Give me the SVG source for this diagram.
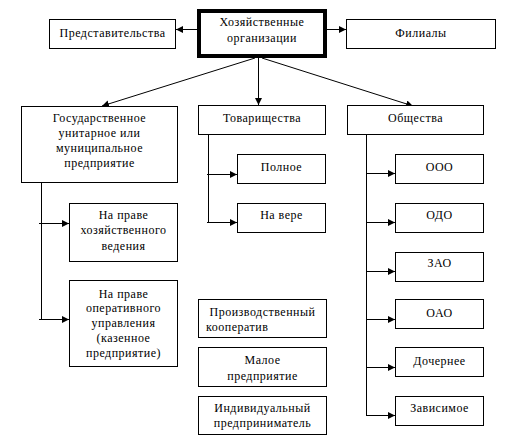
<svg xmlns="http://www.w3.org/2000/svg" width="505" height="445" viewBox="0 0 505 445">
<defs>
<style>
rect{fill:#fff;stroke:#000;stroke-width:1}
.main{stroke-width:4}
text{font-family:"Liberation Serif","DejaVu Serif",serif;font-size:12px;fill:#000;text-anchor:middle;letter-spacing:0.5px}
.l{text-anchor:start}
#connectors path{fill:none;stroke:#000;stroke-width:1}
.a{marker-end:url(#ah)}
</style>
<marker id="ah" markerUnits="userSpaceOnUse" markerWidth="8" markerHeight="8" refX="7" refY="3.5" orient="auto">
<path d="M0,0 L7,3.5 L0,7 Z" fill="#000"/>
</marker>
</defs>
<rect x="0" y="0" width="505" height="445" style="stroke:none"/>
<g id="connectors">
<path class="a" d="M197,29.5 H176"/>
<path class="a" d="M327,29.5 H346"/>
<path class="a" d="M258.5,58 V105"/>
<path class="a" d="M255,58 L102,106"/>
<path class="a" d="M262,58 L413,106"/>
<path d="M41.5,183 V319"/>
<path class="a" d="M39,223.5 H69"/>
<path class="a" d="M39,319.5 H69"/>
<path d="M208.5,135 V222"/>
<path class="a" d="M207,174.5 H237"/>
<path class="a" d="M207,222.5 H237"/>
<path d="M366.5,135 V415"/>
<path class="a" d="M366,173.5 H395"/>
<path class="a" d="M366,222.5 H395"/>
<path class="a" d="M366,271.5 H395"/>
<path class="a" d="M366,319.5 H395"/>
<path class="a" d="M366,367.5 H395"/>
<path class="a" d="M366,415.5 H395"/>
</g>
<g id="n-main"><rect class="main" x="199" y="11" width="126" height="45"/><text x="262" y="26">Хозяйственные</text><text x="262" y="42">организации</text></g>
<g id="n-predst"><rect x="49.5" y="19.5" width="126" height="29"/><text x="112.5" y="37">Представительства</text></g>
<g id="n-filial"><rect x="346.5" y="19.5" width="149" height="29"/><text x="421" y="37">Филиалы</text></g>
<g id="n-gos"><rect x="21.5" y="106.5" width="156" height="76"/><text x="99.5" y="122">Государственное</text><text x="99.5" y="137">унитарное или</text><text x="99.5" y="152">муниципальное</text><text x="99.5" y="167">предприятие</text></g>
<g id="n-tov"><rect x="198.5" y="105.5" width="127" height="29"/><text x="262" y="122">Товарищества</text></g>
<g id="n-obsh"><rect x="347.5" y="105.5" width="136" height="29"/><text x="415.5" y="122">Общества</text></g>
<g id="n-poln"><rect x="237.5" y="154.5" width="88" height="29"/><text x="281.5" y="171">Полное</text></g>
<g id="n-navere"><rect x="237.5" y="203.5" width="88" height="29"/><text x="281.5" y="219">На вере</text></g>
<g id="n-ooo"><rect x="395.5" y="154.5" width="88" height="29"/><text x="439.5" y="171">ООО</text></g>
<g id="n-odo"><rect x="395.5" y="203.5" width="88" height="29"/><text x="439.5" y="219">ОДО</text></g>
<g id="n-zao"><rect x="395.5" y="252.5" width="88" height="29"/><text x="439.5" y="267">ЗАО</text></g>
<g id="n-oao"><rect x="395.5" y="299.5" width="88" height="29"/><text x="439.5" y="317">ОАО</text></g>
<g id="n-doch"><rect x="395.5" y="347.5" width="88" height="29"/><text x="439.5" y="365">Дочернее</text></g>
<g id="n-zav"><rect x="395.5" y="396.5" width="88" height="29"/><text x="439.5" y="412">Зависимое</text></g>
<g id="n-hoz"><rect x="69.5" y="203.5" width="108" height="58"/><text x="123.5" y="219">На праве</text><text x="123.5" y="234">хозяйственного</text><text x="123.5" y="250">ведения</text></g>
<g id="n-oper"><rect x="69.5" y="280.5" width="108" height="86"/><text x="123.5" y="298">На праве</text><text x="123.5" y="312">оперативного</text><text x="123.5" y="327">управления</text><text x="123.5" y="342">(казенное</text><text x="123.5" y="357">предприятие)</text></g>
<g id="n-koop"><rect x="198.5" y="299.5" width="128" height="38"/><text x="262.5" y="316">Производственный</text><text class="l" x="206" y="331">кооператив</text></g>
<g id="n-maloe"><rect x="198.5" y="347.5" width="128" height="39"/><text x="262.5" y="364">Малое</text><text x="262.5" y="380">предприятие</text></g>
<g id="n-ip"><rect x="198.5" y="396.5" width="128" height="38"/><text x="262.5" y="412">Индивидуальный</text><text x="262.5" y="427">предприниматель</text></g>
</svg>
